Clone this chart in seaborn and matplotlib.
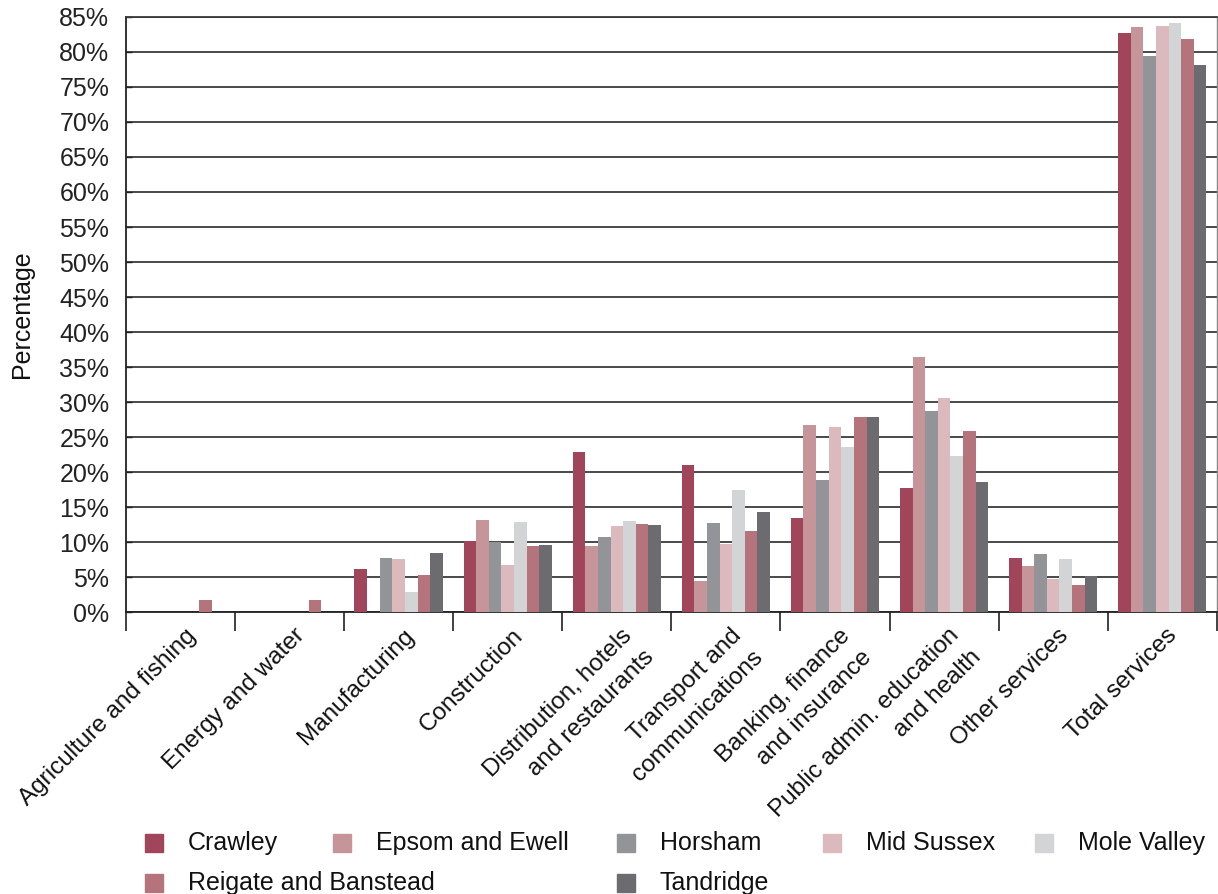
import matplotlib
matplotlib.use("Agg")
import matplotlib.pyplot as plt
from matplotlib.patches import Rectangle
from matplotlib.transforms import ScaledTranslation
import seaborn as sns
import pandas as pd
import numpy as np

categories = [
    "Agriculture and fishing",
    "Energy and water",
    "Manufacturing",
    "Construction",
    "Distribution, hotels\nand restaurants",
    "Transport and\ncommunications",
    "Banking, finance\nand insurance",
    "Public admin. education\nand health",
    "Other services",
    "Total services",
]

districts = ["Crawley", "Epsom and Ewell", "Horsham", "Mid Sussex",
             "Mole Valley", "Reigate and Banstead", "Tandridge"]

crawley    = [0.0, 0.0, 6.1, 10.1, 22.9, 21.0, 13.4, 17.7, 7.7, 82.7]
epsom      = [0.0, 0.0, 0.0, 13.1,  9.4,  4.4, 26.7, 36.4, 6.6, 83.6]
horsham    = [0.0, 0.0, 7.7, 10.0, 10.7, 12.7, 18.9, 28.7, 8.3, 79.4]
mid_sussex = [0.0, 0.0, 7.6,  6.7, 12.3,  9.7, 26.4, 30.6, 4.7, 83.7]
mole       = [0.0, 0.0, 2.9, 12.9, 13.0, 17.4, 23.6, 22.3, 7.6, 84.1]
reigate    = [1.7, 1.7, 5.3,  9.4, 12.6, 11.6, 27.9, 25.9, 3.9, 81.9]
tandridge  = [0.0, 0.0, 8.4,  9.6, 12.4, 14.3, 27.9, 18.6, 5.1, 78.1]

series = [crawley, epsom, horsham, mid_sussex, mole, reigate, tandridge]

colors = ["#A0455A", "#C6959A", "#939498", "#DBB9BD",
          "#D3D4D6", "#B5737B", "#6C6C70"]

rows = []
for name, vals in zip(districts, series):
    for cat, v in zip(categories, vals):
        rows.append({"Sector": cat, "District": name, "Value": v})
df = pd.DataFrame(rows)

sns.set_theme(style="white")
plt.rcParams["font.family"] = ["Liberation Sans", "DejaVu Sans"]
FS = 18

fig = plt.figure(figsize=(12.18, 8.94), dpi=100)
ax = fig.add_axes([0.1034, 0.3154, 0.8956, 0.6656])

sns.barplot(data=df, x="Sector", y="Value", hue="District",
            order=categories, hue_order=districts, palette=colors,
            width=0.81, gap=0, saturation=1, legend=False, ax=ax,
            errorbar=None, linewidth=0, edgecolor="none", zorder=3)

ax.set_ylim(0, 85)
ax.set_xlim(-0.5, len(categories) - 0.5)
ax.set_yticks(np.arange(0, 86, 5))
ax.set_yticklabels([f"{t}%" for t in range(0, 86, 5)], fontsize=FS,
                   color="#111111")
ax.yaxis.grid(True, color="#3a3a3a", linewidth=1.3, zorder=0)
ax.set_axisbelow(True)

for side in ["left", "bottom"]:
    ax.spines[side].set_color("#222222")
    ax.spines[side].set_linewidth(1.3)
ax.spines["top"].set_color("#3a3a3a")
ax.spines["top"].set_linewidth(1.3)
ax.spines["right"].set_color("#888888")
ax.spines["right"].set_linewidth(1.0)

ax.tick_params(axis="y", direction="in", length=4, width=1, pad=12,
               colors="#222222", left=True)

# category labels centred, tick marks at group boundaries
ax.set_xticks(np.arange(len(categories)))
ax.set_xticks(np.arange(-0.5, len(categories)), minor=True)
ax.tick_params(axis="x", which="major", length=0, pad=9)
ax.tick_params(axis="x", which="minor", direction="out", length=14,
               width=1.3, color="#333333", bottom=True)
ax.set_xticklabels(categories, rotation=45, ha="right", va="top",
                   rotation_mode="anchor", fontsize=17.5, color="#111111")
shift = ScaledTranslation(0.04, 0, fig.dpi_scale_trans)
for lab in ax.get_xticklabels():
    lab.set_linespacing(1.5)
    lab.set_transform(lab.get_transform() + shift)

ax.set_xlabel("")
ax.set_ylabel("Percentage", fontsize=FS, labelpad=18, color="#111111")

# legend laid out in two flowing rows
legend_pos = [(145, 843), (333, 843), (617, 843), (823, 843), (1035, 843),
              (145, 883), (617, 883)]
W, H = 1218.0, 894.0
for (px, py), name, col in zip(legend_pos, districts, colors):
    fig.patches.append(Rectangle((px / W, 1 - (py + 9) / H), 18 / W, 18 / H,
                                 transform=fig.transFigure, color=col,
                                 figure=fig))
    fig.text((px + 43) / W, 1 - py / H, name, fontsize=FS,
             va="center", ha="left", color="#111111")

fig.savefig("out.png", dpi=100)
